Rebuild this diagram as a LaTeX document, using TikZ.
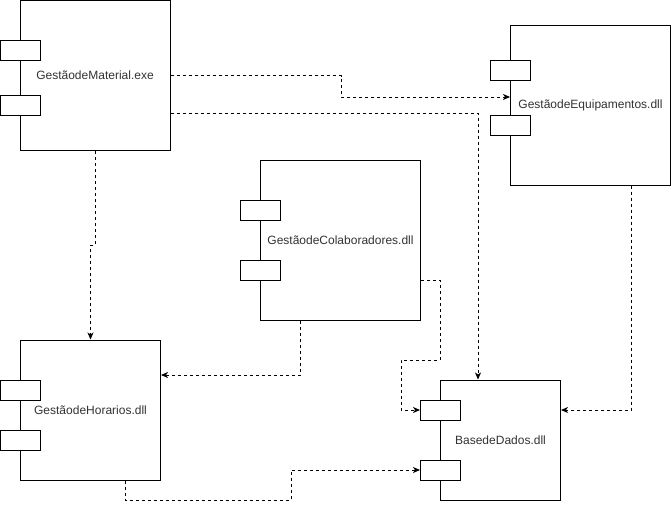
\documentclass[tikz,border=0pt]{standalone}
\usepackage{fontspec}
\setmainfont{Liberation Sans}
\usetikzlibrary{arrows.meta}
\begin{document}
\begin{tikzpicture}[x=1pt,y=-1pt,
  comp/.style={draw=black,line width=1pt,fill=white,inner sep=0pt,
    font=\fontsize{12}{14}\selectfont,text=black!80},
  port/.style={draw=black,line width=1pt,fill=white,minimum width=40pt,minimum height=20pt,inner sep=0pt},
  dep/.style={draw=black,line width=0.9pt,dash pattern=on 3pt off 3pt,
    -{Stealth[length=7pt,width=6pt,inset=2pt]}}]
\useasboundingbox (0,0) rectangle (671,509);

% components
\node[comp,minimum width=150pt,minimum height=150pt] (mat) at (95,75.5) {GestãodeMaterial.exe};
\node[port] (matp1) at (20,50) {};
\node[port] (matp2) at (20,105) {};

\node[comp,minimum width=160pt,minimum height=160pt] (eq) at (590.5,105) {GestãodeEquipamentos.dll};
\node[port] (eqp1) at (510.5,70) {};
\node[port] (eqp2) at (510.5,125) {};

\node[comp,minimum width=160pt,minimum height=160pt] (col) at (340.5,240) {GestãodeColaboradores.dll};
\node[port] (colp1) at (260.5,210) {};
\node[port] (colp2) at (260.5,270) {};

\node[comp,minimum width=140pt,minimum height=140pt] (hor) at (90.5,410) {GestãodeHorarios.dll};
\node[port] (horp1) at (20.5,390) {};
\node[port] (horp2) at (20.5,440) {};

\node[comp,minimum width=120pt,minimum height=120pt] (db) at (500.5,440) {BasedeDados.dll};
\node[port] (dbp1) at (440.5,410) {};
\node[port] (dbp2) at (440.5,470) {};

% dependencies
\draw[dep] (mat.east) -- (341,75.5) -- (341,97) -- ([yshift=8pt]eq.west);
\draw[dep] ([yshift=-37.5pt]mat.east) -- (478,113) -- ([xshift=-22.5pt]db.north);
\draw[dep] (mat.south) -- (95,245) -- (90.5,245) -- (hor.north);
\draw[dep] ([xshift=-40pt]col.south) -- (300.5,375) -- ([yshift=35pt]hor.east);
\draw[dep] ([yshift=-40pt]col.east) -- (440,280) -- (440,360) -- (401,360) -- (401,410) -- (dbp1.west);
\draw[dep] ([xshift=40.5pt]eq.south) -- (631,410) -- ([yshift=30pt]db.east);
\draw[dep] ([xshift=35pt]hor.south) -- (125.5,500) -- (291,500) -- (291,470) -- (dbp2.west);
\end{tikzpicture}
\end{document}
